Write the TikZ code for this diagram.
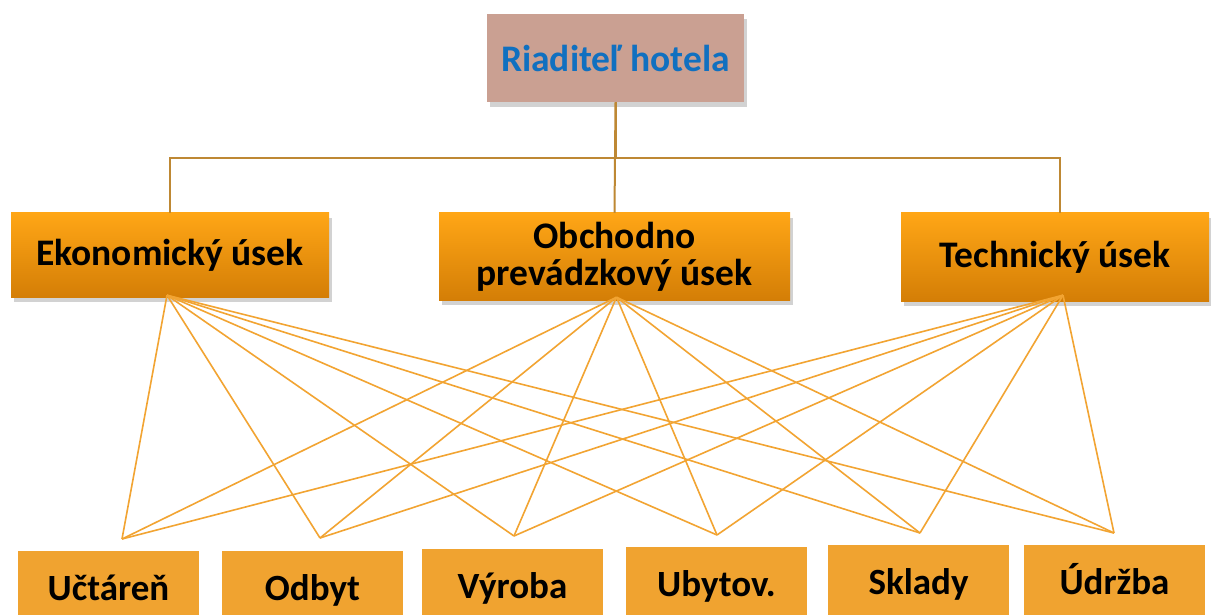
\documentclass[tikz,border=0pt]{standalone}
\usepackage{fontspec}
\setmainfont{Carlito}
\usepackage{tikz}
\usetikzlibrary{shadows}
\definecolor{rosybox}{RGB}{202,160,146}
\definecolor{titleblue}{RGB}{16,112,192}
\definecolor{orangetop}{RGB}{255,166,22}
\definecolor{orangebot}{RGB}{212,126,6}
\definecolor{flatorange}{RGB}{240,163,48}
\definecolor{treeline}{RGB}{190,136,52}
\definecolor{crossline}{RGB}{242,164,50}

\begin{document}
\begin{tikzpicture}[x=1pt,y=-1pt,
  boss/.style={fill=rosybox, text=titleblue, inner sep=0pt, minimum width=257pt, minimum height=88pt,
    font=\fontsize{37.5}{38}\selectfont\bfseries, drop shadow={shadow xshift=3pt,shadow yshift=-5pt,opacity=.35}},
  usek/.style={top color=orangetop, bottom color=orangebot, inner sep=0pt, align=center,
    font=\fontsize{37.5}{37}\selectfont\bfseries, drop shadow={shadow xshift=3pt,shadow yshift=-5pt,opacity=.35}},
  oddel/.style={fill=flatorange, inner sep=0pt, minimum width=181pt, minimum height=74pt,
    text height=24pt, text depth=0pt, font=\fontsize{37}{37}\selectfont\bfseries},
  tree/.style={treeline, line width=2pt},
  cross/.style={crossline, line width=1.6pt}]
\clip (0,0) rectangle (1211,615);
\fill[white] (0,0) rectangle (1211,615);
% vedenie
\node[boss] (Riaditel) at (615.5,58) {Riaditeľ hotela};
% useky
\node[usek, minimum width=318pt, minimum height=84pt] (Ekon) at (170,255) {Ekonomický úsek};
\node[usek, minimum width=351pt, minimum height=87pt] (Obch) at (614.5,256.5) {Obchodno\\prevádzkový úsek};
\node[usek, minimum width=308pt, minimum height=88pt] (Tech) at (1055,257) {Technický úsek};
% oddelenia
\node[oddel] (Uctaren) at (108.5,588) {Učtáreň};
\node[oddel] (Odbyt)   at (312.5,588) {Odbyt};
\node[oddel] (Vyroba)  at (512.5,586) {Výroba};
\node[oddel] (Ubytov)  at (716.5,584) {Ubytov.};
\node[oddel] (Sklady)  at (918.5,582) {Sklady};
\node[oddel] (Udrzba)  at (1114.5,582) {Údržba};
% body nad oddeleniami
\coordinate (Uctaren-in) at (122,539);
\coordinate (Odbyt-in)   at (320,538);
\coordinate (Vyroba-in)  at (514,536);
\coordinate (Ubytov-in)  at (717,535);
\coordinate (Sklady-in)  at (920,533);
\coordinate (Udrzba-in)  at (1114,533);
\coordinate (Ekon-out) at ([xshift=-3pt,yshift=2pt]Ekon.south);
\coordinate (Obch-out) at ([xshift=2pt,yshift=3pt]Obch.south);
\coordinate (Tech-out) at ([xshift=8pt,yshift=6pt]Tech.south);
% strom
\draw[tree] (Riaditel.south) -- (Obch.north);
\draw[tree] (Riaditel.south) -- ++(0,56) -| (Ekon.north);
\draw[tree] (Riaditel.south) -- ++(0,56) -| ([xshift=5pt]Tech.north);
% prepojenia
\foreach \s in {Ekon,Obch,Tech}
  \foreach \t in {Uctaren,Odbyt,Vyroba,Ubytov,Sklady,Udrzba}
    \draw[cross] (\s-out) -- (\t-in);
\end{tikzpicture}
\end{document}
